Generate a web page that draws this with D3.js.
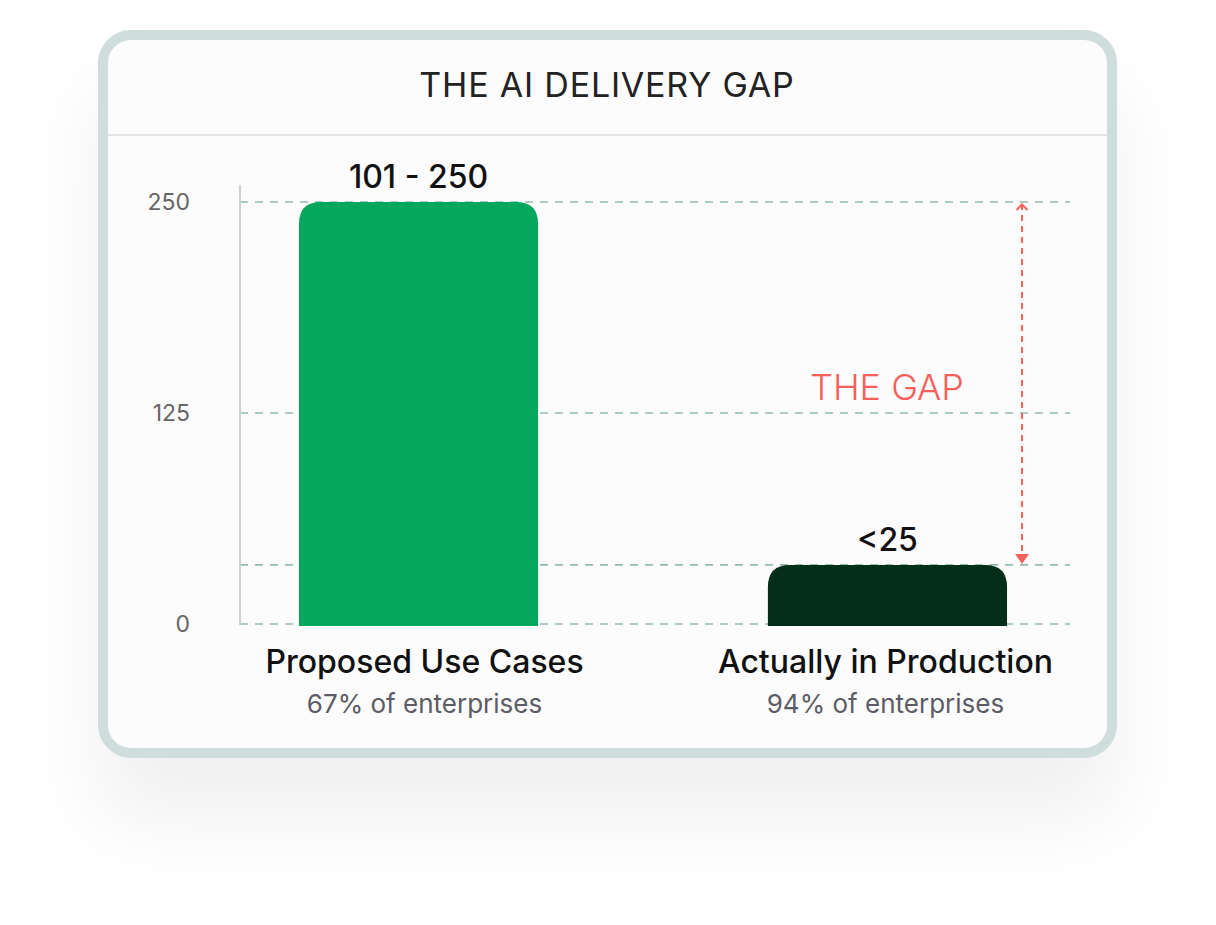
<!DOCTYPE html>
<html>
<head>
<meta charset="utf-8">
<script src="https://cdn.jsdelivr.net/npm/d3@7"></script>
<style>
  body { margin: 0; background: #ffffff; }
  svg { display: block; font-family: Inter, "Noto Sans", sans-serif; }
</style>
</head>
<body>
<div id="chart"></div>
<script>
// chart data
const categories = ["Proposed Use Cases", "Actually in Production"];
const subLabels = ["67% of enterprises", "94% of enterprises"];
const values = [250, 35];
const valueLabels = ["101 - 250", "<25"];
const barColors = ["#04a75c", "#022e1a"];
const yTicks = [0, 125, 250];

const W = 1216, H = 925;

const svg = d3.select("#chart").append("svg")
    .attr("width", W)
    .attr("height", H);

// shadow for the card
const defs = svg.append("defs");
const shadow = defs.append("filter")
    .attr("id", "shadow")
    .attr("x", "-20%").attr("y", "-20%")
    .attr("width", "140%").attr("height", "170%");
shadow.append("feDropShadow")
    .attr("dx", 0).attr("dy", 60)
    .attr("stdDeviation", 40)
    .attr("flood-color", "#000")
    .attr("flood-opacity", 0.06);

// arrow markers
defs.append("marker")
    .attr("id", "arrowUp")
    .attr("viewBox", "0 0 14 10")
    .attr("refX", 7).attr("refY", 1)
    .attr("markerWidth", 14).attr("markerHeight", 10)
    .attr("markerUnits", "userSpaceOnUse")
    .attr("orient", "0")
    .append("path")
    .attr("d", "M1.5,7 L7,1.5 L12.5,7")
    .attr("fill", "none")
    .attr("stroke", "#f5605a")
    .attr("stroke-width", 2);

defs.append("marker")
    .attr("id", "arrowDown")
    .attr("viewBox", "0 0 14 11")
    .attr("refX", 7).attr("refY", 10)
    .attr("markerWidth", 14).attr("markerHeight", 11)
    .attr("markerUnits", "userSpaceOnUse")
    .attr("orient", "0")
    .append("path")
    .attr("d", "M0,0 L14,0 L7,10 Z")
    .attr("fill", "#f5605a");

// card
svg.append("rect")
    .attr("x", 103).attr("y", 35)
    .attr("width", 1009).attr("height", 718)
    .attr("rx", 28)
    .attr("fill", "#fcfcfc")
    .attr("stroke", "#cfdddc")
    .attr("stroke-width", 10)
    .attr("filter", "url(#shadow)");

svg.append("line")
    .attr("x1", 108).attr("x2", 1107)
    .attr("y1", 135).attr("y2", 135)
    .attr("stroke", "#e4e4e4")
    .attr("stroke-width", 2);

svg.append("text")
    .attr("x", 607).attr("y", 97)
    .attr("text-anchor", "middle")
    .attr("font-size", 34)
    .attr("letter-spacing", 0.8)
    .attr("fill", "#222")
    .text("THE AI DELIVERY GAP");

// scales
const x = d3.scaleBand()
    .domain(categories)
    .range([238, 1068])
    .paddingInner(0.49)
    .paddingOuter(0.13);

const y = d3.scaleLinear()
    .domain([0, 250])
    .range([624, 202]);

const g = svg.append("g");

// gridlines at ticks and at the small bar top
const gridVals = yTicks.concat([values[1]]);
g.selectAll("line.grid")
    .data(gridVals)
    .enter()
    .append("line")
    .attr("class", "grid")
    .attr("x1", 240).attr("x2", 1070)
    .attr("y1", d => y(d)).attr("y2", d => y(d))
    .attr("stroke", "#93bab0")
    .attr("stroke-width", 1.6)
    .attr("stroke-dasharray", "8,7");

// y axis line
g.append("line")
    .attr("x1", 240).attr("x2", 240)
    .attr("y1", 185).attr("y2", 625)
    .attr("stroke", "#cfcfcf")
    .attr("stroke-width", 2);

g.selectAll("text.tick")
    .data(yTicks)
    .enter()
    .append("text")
    .attr("class", "tick")
    .attr("x", 190)
    .attr("y", d => y(d) + 8)
    .attr("text-anchor", "end")
    .attr("font-size", 23)
    .attr("fill", "#666")
    .text(d => d);

// bars with rounded top corners
const r = 22;
function barPath(d, i) {
    const x0 = x(categories[i]), w = x.bandwidth();
    const top = y(d), bot = y(0) + 2;
    return `M${x0},${bot} V${top + r} Q${x0},${top} ${x0 + r},${top} H${x0 + w - r} Q${x0 + w},${top} ${x0 + w},${top + r} V${bot} Z`;
}

g.selectAll("path.bar")
    .data(values)
    .enter()
    .append("path")
    .attr("class", "bar")
    .attr("d", barPath)
    .attr("fill", (d, i) => barColors[i]);

// value labels
g.selectAll("text.val")
    .data(values)
    .enter()
    .append("text")
    .attr("class", "val")
    .attr("x", (d, i) => x(categories[i]) + x.bandwidth() / 2)
    .attr("y", d => y(d) - 14)
    .attr("text-anchor", "middle")
    .attr("font-size", 32)
    .attr("font-weight", 500)
    .attr("fill", "#111")
    .text((d, i) => valueLabels[i]);

// category labels
g.selectAll("text.cat")
    .data(categories)
    .enter()
    .append("text")
    .attr("class", "cat")
    .attr("x", (d, i) => x(d) + x.bandwidth() / 2 + (i === 0 ? 6 : -2))
    .attr("y", 673)
    .attr("text-anchor", "middle")
    .attr("font-size", 32)
    .attr("font-weight", 500)
    .attr("fill", "#111")
    .text(d => d);

g.selectAll("text.sub")
    .data(subLabels)
    .enter()
    .append("text")
    .attr("class", "sub")
    .attr("x", (d, i) => x(categories[i]) + x.bandwidth() / 2 + (i === 0 ? 6 : -2))
    .attr("y", 713)
    .attr("text-anchor", "middle")
    .attr("font-size", 26)
    .attr("fill", "#5c5c66")
    .text(d => d);

// the gap annotation
g.append("line")
    .attr("x1", 1022).attr("x2", 1022)
    .attr("y1", y(values[0]) + 2).attr("y2", y(values[1]) - 1)
    .attr("stroke", "#f5605a")
    .attr("stroke-width", 2)
    .attr("stroke-dasharray", "6,5")
    .attr("marker-start", "url(#arrowUp)")
    .attr("marker-end", "url(#arrowDown)");

g.append("text")
    .attr("x", 887).attr("y", 400)
    .attr("text-anchor", "middle")
    .attr("font-size", 36)
    .attr("font-weight", 300)
    .attr("fill", "#f5605a")
    .text("THE GAP");
</script>
</body>
</html>
